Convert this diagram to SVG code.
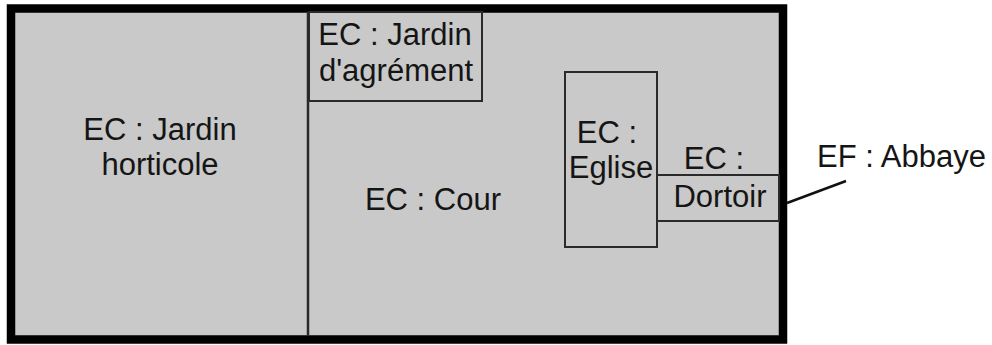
<svg xmlns="http://www.w3.org/2000/svg" width="992" height="345" viewBox="0 0 992 345">
<style>
.t{font-family:"Liberation Sans",Arial,sans-serif;font-size:31px;fill:#151515;text-anchor:middle}
.box{fill:#c9c9c9;stroke:#2a2a2a;stroke-width:2}
</style>
<rect width="992" height="345" fill="#ffffff"/>
<g id="abbaye">
<rect x="11" y="8.5" width="772" height="331" fill="#c9c9c9" stroke="#000" stroke-width="8.5"/>
</g>
<g id="jardin-horticole">
<line x1="308" y1="13" x2="308" y2="336" stroke="#2a2a2a" stroke-width="2.5"/>
<text class="t" x="160" y="140">EC : Jardin</text>
<text class="t" x="160" y="175">horticole</text>
</g>
<g id="cour">
<text class="t" x="433" y="210">EC : Cour</text>
</g>
<g id="jardin-agrement">
<rect class="box" x="309" y="12" width="173" height="89"/>
<text class="t" x="395" y="45">EC : Jardin</text>
<text class="t" x="396" y="81">d'agrément</text>
</g>
<g id="eglise">
<rect class="box" x="565" y="72" width="92" height="175"/>
<text class="t" x="607" y="143">EC :</text>
<text class="t" x="611" y="178">Eglise</text>
</g>
<g id="dortoir">
<rect class="box" x="657" y="175" width="122" height="46"/>
<text class="t" x="714" y="169">EC :</text>
<text class="t" x="720" y="207">Dortoir</text>
</g>
<g id="connectors">
<line x1="787" y1="203" x2="846" y2="181" stroke="#111" stroke-width="2.5"/>
</g>
<g id="label-abbaye">
<text class="t" x="817" y="167" style="text-anchor:start">EF : Abbaye</text>
</g>
</svg>
